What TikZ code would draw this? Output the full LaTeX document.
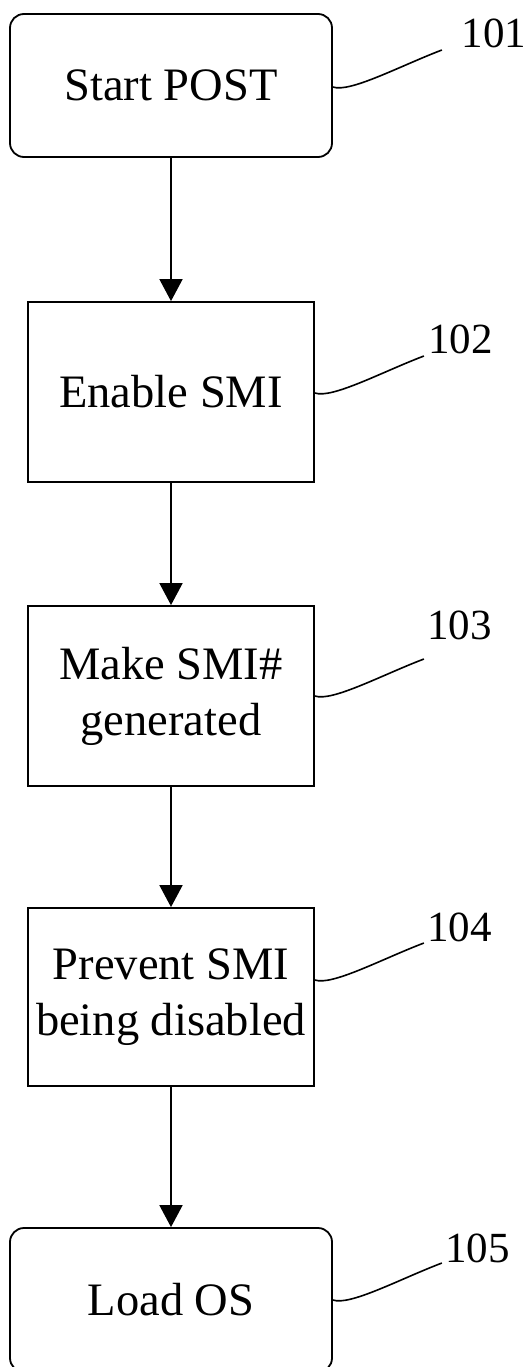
\documentclass[tikz,border=0pt]{standalone}
\usepackage{fontspec}
\setmainfont{Liberation Serif}
\usetikzlibrary{arrows.meta}

\tikzset{
  stepbox/.style={draw, line width=1.8pt, inner sep=0pt, align=center,
    font=\fontsize{46.5}{56}\selectfont},
  termbox/.style={stepbox, rounded corners=14pt},
  flow/.style={line width=1.8pt, -{Triangle[length=22pt,width=23pt]}},
  leader/.style={line width=1.6pt},
  reflabel/.style={anchor=base, inner sep=0pt, font=\fontsize{43}{43}\selectfont}
}

\begin{document}
\begin{tikzpicture}[x=1pt, y=-1pt]
  \useasboundingbox (0,0) rectangle (526,1367);

  % process steps
  \node[termbox, minimum width=322pt, minimum height=143pt] (b1) at (171,85.5) {Start POST};
  \node[stepbox, minimum width=286pt, minimum height=180pt] (b2) at (171,392) {Enable SMI};
  \node[stepbox, minimum width=286pt, minimum height=180pt] (b3) at (171,696) {Make SMI\#\\generated};
  \node[stepbox, minimum width=286pt, minimum height=178pt] (b4) at (171,997) {Prevent SMI\\being disabled};
  \node[termbox, minimum width=322pt, minimum height=144pt] (b5) at (171,1300) {\raisebox{-6pt}{Load OS}};

  % flow arrows
  \draw[flow] (b1.south) -- (b2.north);
  \draw[flow] (b2.north |- b2.south) -- (b3.north);
  \draw[flow] (b3.south) -- (b4.north);
  \draw[flow] (b4.south) -- (b5.north);

  % reference numerals
  \node[reflabel] (l1) at (494,48) {101};
  \node[reflabel] (l2) at (460.5,353) {102};
  \node[reflabel] (l3) at (459.5,639) {103};
  \node[reflabel] (l4) at (459.5,941) {104};
  \node[reflabel] (l5) at (477.5,1262) {105};

  % leader lines from the steps to their numerals
  \coordinate (s1) at ([yshift=-1.5pt]b1.east);
  \coordinate (s2) at ([yshift=-1pt]b2.east);
  \coordinate (s3) at (b3.east);
  \coordinate (s4) at ([yshift=17pt]b4.east);
  \coordinate (s5) at (b5.east);
  \foreach \s in {s1,s2,s3,s4,s5}{
    \draw[leader] (\s) .. controls ([shift={(17,6)}]\s) and ([shift={(67,-21)}]\s) .. ([shift={(109,-37)}]\s);
  }
\end{tikzpicture}
\end{document}
